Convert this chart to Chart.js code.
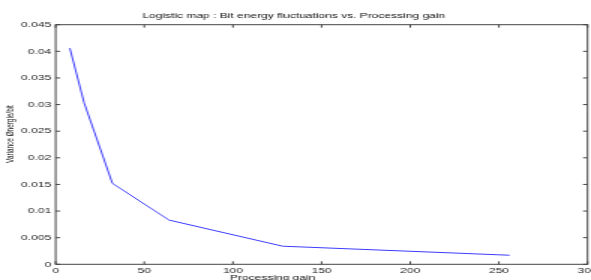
<!DOCTYPE html>
<html>
<head>
<meta charset="utf-8">
<script src="https://cdn.jsdelivr.net/npm/chart.js@4.4.1/dist/chart.umd.min.js"></script>
<style>
  html, body { margin: 0; padding: 0; background: #fff; overflow: hidden; }
  #wrap { width: 591px; height: 280px; overflow: hidden; }
  /* the original figure is stretched horizontally */
  #chart { transform: scaleX(1.5); transform-origin: 0 0; }
</style>
</head>
<body>
<div id="wrap"><canvas id="chart" width="394" height="280"></canvas></div>
<script>
const gains = [8, 16, 32, 64, 128, 256]
const variance = [0.0406, 0.0304, 0.0152, 0.0083, 0.0034, 0.0017]
const xTicks = [0, 50, 100, 150, 200, 250, 300]
const yTicks = [0, 0.005, 0.01, 0.015, 0.02, 0.025, 0.03, 0.035, 0.04, 0.045]
const titleText = "Logistic map : Bit energy fluctuations vs. Processing gain"
const xLabel = "Processing gain"
const yLabel = "Variance Ønergie/bit"

const FONT = "'Liberation Sans', Arial, sans-serif"

// box round the axes, inward ticks on all four sides, axis labels
const frame = {
  id: "frame",
  afterDraw(chart) {
    const { ctx, chartArea: a, scales: { x, y } } = chart
    ctx.save()
    ctx.strokeStyle = "#444"
    ctx.lineWidth = 1
    ctx.strokeRect(a.left, a.top, a.right - a.left, a.bottom - a.top)
    ctx.beginPath()
    x.ticks.forEach((t) => {
      const px = x.getPixelForValue(t.value)
      ctx.moveTo(px, a.bottom)
      ctx.lineTo(px, a.bottom - 3)
      ctx.moveTo(px, a.top)
      ctx.lineTo(px, a.top + 3)
    })
    y.ticks.forEach((t) => {
      const py = y.getPixelForValue(t.value)
      ctx.moveTo(a.left, py)
      ctx.lineTo(a.left + 3, py)
      ctx.moveTo(a.right, py)
      ctx.lineTo(a.right - 3, py)
    })
    ctx.stroke()

    ctx.fillStyle = "#111"
    ctx.font = "8px " + FONT
    ctx.textAlign = "center"
    ctx.textBaseline = "top"
    ctx.fillText(xLabel, a.left + 0.408 * (a.right - a.left), 273.5)

    ctx.translate(7.2, 134)
    ctx.rotate(-Math.PI / 2)
    ctx.font = "6.4px " + FONT
    ctx.textBaseline = "middle"
    ctx.fillText(yLabel, 0, 0)
    ctx.restore()
  }
}

new Chart(document.getElementById("chart"), {
  type: "line",
  data: {
    datasets: [
      {
        data: gains.map((g, i) => ({ x: g, y: variance[i] })),
        borderColor: "rgb(60,60,255)",
        borderWidth: 1,
        pointRadius: 0,
        tension: 0,
        fill: false
      }
    ]
  },
  options: {
    responsive: false,
    animation: false,
    events: [],
    layout: { padding: { left: 0, right: 2.3, top: 0, bottom: 0 } },
    plugins: {
      legend: { display: false },
      tooltip: { enabled: false },
      title: {
        display: true,
        text: titleText,
        color: "#111",
        font: { family: FONT, size: 8, weight: "normal", lineHeight: 1.2 },
        padding: { top: 10.5, bottom: 4.6 }
      }
    },
    scales: {
      x: {
        type: "linear",
        min: 0,
        max: 300,
        afterBuildTicks: (s) => { s.ticks = xTicks.map((v) => ({ value: v })) },
        afterFit: (s) => { s.height = 15.7; s.paddingLeft = 0; s.paddingRight = 0 },
        grid: { display: false, drawTicks: false },
        border: { display: false },
        ticks: {
          autoSkip: false,
          maxRotation: 0,
          padding: 2,
          color: "#222",
          font: { family: FONT, size: 8 },
          callback: (v) => String(v)
        }
      },
      y: {
        type: "linear",
        min: 0,
        max: 0.045,
        afterBuildTicks: (s) => { s.ticks = yTicks.map((v) => ({ value: v })) },
        afterFit: (s) => { s.width = 37.1; s.paddingTop = 0; s.paddingBottom = 0 },
        grid: { display: false, drawTicks: false },
        border: { display: false },
        ticks: {
          autoSkip: false,
          padding: 3,
          color: "#222",
          font: { family: FONT, size: 8 },
          callback: (v) => String(+v.toFixed(3))
        }
      }
    }
  },
  plugins: [frame]
})
</script>
</body>
</html>
